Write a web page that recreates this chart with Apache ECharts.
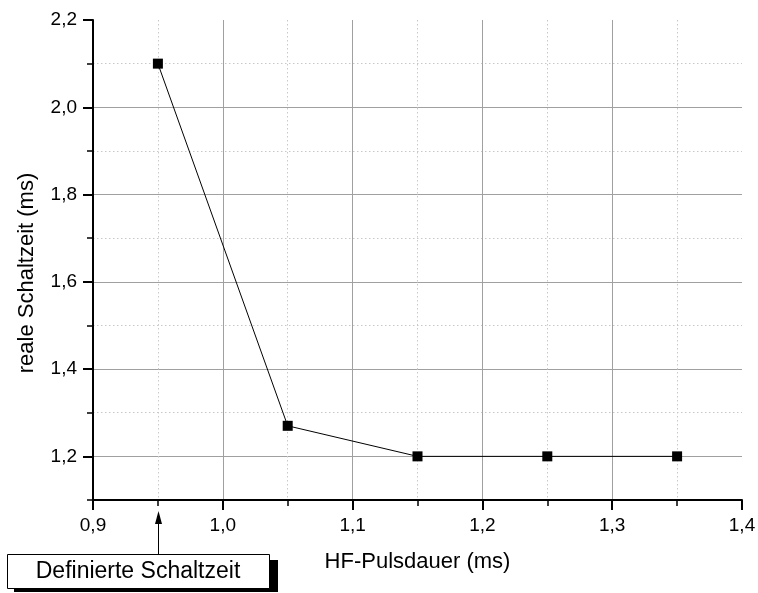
<!DOCTYPE html>
<html>
<head>
<meta charset="utf-8">
<script src="https://cdn.jsdelivr.net/npm/echarts@6/dist/echarts.min.js"></script>
<style>
html,body{margin:0;padding:0;background:#fff;}
#chart{width:758px;height:593px;}
</style>
</head>
<body>
<div id="chart"></div>
<script>
// Data
var pulseDuration = [0.95, 1.05, 1.15, 1.25, 1.35];   // HF-Pulsdauer (ms)
var switchTime    = [2.10, 1.27, 1.20, 1.20, 1.20];   // reale Schaltzeit (ms)
var xTicks = [0.9, 1.0, 1.1, 1.2, 1.3, 1.4];
var yTicks = [1.2, 1.4, 1.6, 1.8, 2.0, 2.2];
var annotationText = 'Definierte Schaltzeit';
var annotationX = 0.95;
var xName = 'HF-Pulsdauer (ms)';
var yName = 'reale Schaltzeit (ms)';

var FONT = 'Arial, "Liberation Sans", sans-serif';
function fmt(v){ return v.toFixed(1).replace('.', ','); }

var chart = echarts.init(document.getElementById('chart'), null, {renderer:'canvas'});

var data = pulseDuration.map(function(x,i){ return [x, switchTime[i]]; });

var option = {
  animation: false,
  backgroundColor: '#ffffff',
  grid: { left: 93, right: 16, top: 20, bottom: 93, outerBoundsMode: 'none' },
  xAxis: {
    type: 'value',
    min: xTicks[0], max: xTicks[xTicks.length-1], interval: 0.1,
    name: xName, nameLocation: 'middle', nameGap: 51,
    nameTextStyle: { fontFamily: FONT, fontSize: 22, color: '#000' },
    axisLine: { show: true, onZero: false, lineStyle: { color: '#000', width: 2 } },
    axisTick: { show: true, inside: false, length: 10, lineStyle: { color: '#000', width: 2 } },
    minorTick: { show: true, splitNumber: 2, length: 6, lineStyle: { color: '#000', width: 1.5 } },
    axisLabel: { fontFamily: FONT, fontSize: 19, color: '#000', margin: 16, formatter: fmt },
    splitLine: { show: true, showMinLine: false, showMaxLine: false, lineStyle: { color: '#a0a0a0', width: 1, type: 'solid' } },
    minorSplitLine: { show: true, lineStyle: { color: '#c8c8c8', width: 1, type: [1.5, 2.5] } }
  },
  yAxis: [
    {
      type: 'value',
      position: 'left',
      min: 1.1, max: yTicks[yTicks.length-1], splitNumber: 5,
      name: yName, nameLocation: 'middle', nameGap: 55,
      nameTextStyle: { fontFamily: FONT, fontSize: 22, color: '#000', padding: [0, 26, 0, 0] },
      axisLine: { show: true, onZero: false, lineStyle: { color: '#000', width: 2 } },
      axisTick: { show: true, inside: false, length: 10, lineStyle: { color: '#000', width: 2 } },
      axisLabel: { fontFamily: FONT, fontSize: 19, color: '#000', margin: 16, showMinLabel: false,
        formatter: function(v){ return v < 1.15 ? '' : fmt(v); } },
      splitLine: { show: true, showMinLine: false, showMaxLine: false, lineStyle: { color: '#a0a0a0', width: 1, type: 'solid' } }
    },
    {
      type: 'value',
      position: 'left',
      min: 1.1, max: yTicks[yTicks.length-1], interval: 0.2,
      axisLine: { show: false },
      axisTick: { show: true, inside: false, length: 6, lineStyle: { color: '#000', width: 1.5 } },
      axisLabel: { show: false },
      splitLine: { show: true, showMinLine: false, showMaxLine: false, lineStyle: { color: '#c8c8c8', width: 1, type: [1.5, 2.5] } }
    }
  ],
  series: [{
    type: 'line',
    data: data,
    yAxisIndex: 0,
    symbol: 'rect',
    symbolSize: 10,
    lineStyle: { color: '#000', width: 1 },
    itemStyle: { color: '#000' },
    z: 5
  }]
};
chart.setOption(option);

// Annotation box with shadow and arrow pointing at x = 0.95
var ax = Math.round(chart.convertToPixel({xAxisIndex: 0}, annotationX)) + 0.5;
chart.setOption({
  graphic: [
    { type: 'rect', shape: { x: 14, y: 560, width: 264, height: 32 }, style: { fill: '#000' }, z: 100 },
    { type: 'rect', shape: { x: 7.5, y: 554.5, width: 262, height: 34 }, style: { fill: '#fff', stroke: '#000', lineWidth: 1 }, z: 101 },
    { type: 'text', x: 138, y: 572, style: { text: annotationText, fontFamily: FONT, fontSize: 23, fill: '#000', align: 'center', verticalAlign: 'middle' }, z: 102 },
    { type: 'line', shape: { x1: ax, y1: 554, x2: ax, y2: 522 }, style: { stroke: '#000', lineWidth: 1 }, z: 102 },
    { type: 'polygon', shape: { points: [[ax, 511], [ax - 3.5, 524], [ax + 3.5, 524]] }, style: { fill: '#000' }, z: 102 }
  ]
});
</script>
</body>
</html>
